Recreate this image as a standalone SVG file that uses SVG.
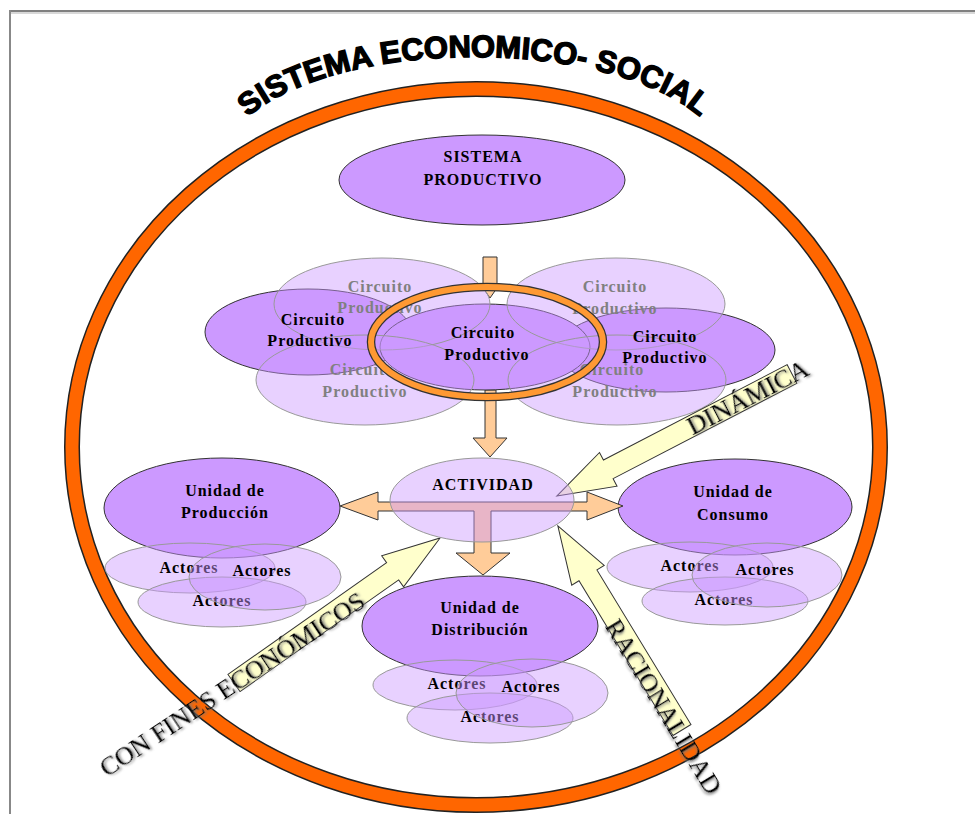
<svg xmlns="http://www.w3.org/2000/svg" width="975" height="814" viewBox="0 0 975 814">
<style>
.dk{fill:#cc99ff;stroke:#333;stroke-width:1}
.lt{fill:#cc99ff;fill-opacity:0.45;stroke:#999;stroke-width:1}
.t{font-family:'Liberation Serif','Times New Roman',serif;font-weight:bold;font-size:16px;letter-spacing:1px;text-anchor:middle;fill:#000}
.tg{fill:#808080}
.yel{fill:#ffffcc;stroke:#333;stroke-width:1}
.peach{fill:#ffcc99;stroke:#333;stroke-width:1}
.big{font-family:'Liberation Serif','Times New Roman',serif;font-size:26px;text-anchor:middle;fill:#000;filter:url(#sh)}
</style>
<defs>
<filter id="sh" x="-10%" y="-30%" width="120%" height="160%">
<feDropShadow dx="1.5" dy="1.5" stdDeviation="0.8" flood-color="#777" flood-opacity="0.9"/>
</filter>
<path id="arc" d="M 224 162 A 250 105 0 0 1 724 162"/>
</defs>
<rect width="975" height="814" fill="#fff"/>
<g id="page">
<line x1="9" y1="13" x2="975" y2="13" stroke="#d8d8d8" stroke-width="2"/>
<line x1="9" y1="11" x2="975" y2="11" stroke="#808080" stroke-width="2"/>
<line x1="10" y1="10" x2="10" y2="814" stroke="#888" stroke-width="2"/>
</g>
<g id="sistema-economico-social">
<ellipse cx="476" cy="447" rx="404" ry="358" fill="none" stroke="#222" stroke-width="16"/>
<ellipse cx="476" cy="447" rx="404" ry="358" fill="none" stroke="#ff6600" stroke-width="13"/>
<text font-family="'Liberation Sans',Arial,sans-serif" font-weight="bold" font-size="31" fill="#000" stroke="#000" stroke-width="1.4"><textPath href="#arc" startOffset="50%" text-anchor="middle">SISTEMA ECONOMICO- SOCIAL</textPath></text>
</g>
<g id="sistema-productivo">
<ellipse class="dk" cx="482" cy="180" rx="143" ry="45"/>
<text class="t" x="483" y="162">SISTEMA</text>
<text class="t" x="483" y="185">PRODUCTIVO</text>
</g>
<g id="connectors">
<polygon class="peach" points="483,257 497,257 497,288 490,298 483,288"/>
<polygon class="peach" points="485,390 496,390 496,438 507,438 490,457 473,438 485,438"/>
</g>
<g id="circuitos">
<ellipse class="dk" cx="308" cy="332" rx="103" ry="43"/>
<ellipse class="dk" cx="666" cy="350" rx="109" ry="42"/>
<ellipse class="dk" cx="485" cy="347" rx="105" ry="43"/>
<ellipse class="lt" cx="382" cy="304" rx="108" ry="46"/>
<ellipse class="lt" cx="616" cy="304" rx="109" ry="46"/>
<ellipse class="lt" cx="365" cy="380" rx="109" ry="45"/>
<ellipse class="lt" cx="617" cy="380" rx="109" ry="45"/>
<text class="t tg" x="380" y="292">Circuito</text>
<text class="t tg" x="380" y="313">Productivo</text>
<text class="t tg" x="615" y="292">Circuito</text>
<text class="t tg" x="615" y="314">Productivo</text>
<text class="t tg" x="362" y="375">Circuito</text>
<text class="t tg" x="365" y="397">Productivo</text>
<text class="t tg" x="612" y="375">Circuito</text>
<text class="t tg" x="615" y="397">Productivo</text>
<text class="t" x="313" y="325">Circuito</text>
<text class="t" x="310" y="346">Productivo</text>
<text class="t" x="483" y="338">Circuito</text>
<text class="t" x="487" y="360">Productivo</text>
<text class="t" x="665" y="342">Circuito</text>
<text class="t" x="665" y="363">Productivo</text>
<ellipse cx="487" cy="342" rx="116" ry="55" fill="none" stroke="#333" stroke-width="8.5"/>
<ellipse cx="487" cy="342" rx="116" ry="55" fill="none" stroke="#ff9933" stroke-width="6"/>
</g>
<g id="unidad-produccion">
<ellipse class="dk" cx="222" cy="508" rx="118" ry="50"/>
<text class="t" x="225" y="496">Unidad de</text>
<text class="t" x="225" y="518">Producción</text>
<ellipse class="lt" cx="190" cy="568" rx="85" ry="25"/>
<ellipse class="lt" cx="222" cy="602" rx="84" ry="25"/>
<text class="t" x="189" y="573">Actores</text>
<text class="t" x="222" y="606">Actores</text>
<ellipse class="lt" cx="265" cy="577" rx="76" ry="33"/>
<text class="t" x="262" y="576">Actores</text>
</g>
<g id="unidad-consumo">
<ellipse class="dk" cx="735" cy="507" rx="117" ry="48"/>
<text class="t" x="733" y="497">Unidad de</text>
<text class="t" x="733" y="520">Consumo</text>
<ellipse class="lt" cx="690" cy="567" rx="83" ry="25"/>
<ellipse class="lt" cx="725" cy="601" rx="83" ry="24"/>
<text class="t" x="690" y="571">Actores</text>
<text class="t" x="724" y="605">Actores</text>
<ellipse class="lt" cx="767" cy="575" rx="75" ry="32"/>
<text class="t" x="765" y="575">Actores</text>
</g>
<g id="unidad-distribucion">
<ellipse class="dk" cx="480" cy="626" rx="118" ry="50"/>
<text class="t" x="480" y="613">Unidad de</text>
<text class="t" x="480" y="635">Distribución</text>
<ellipse class="lt" cx="455" cy="685" rx="82" ry="25"/>
<ellipse class="lt" cx="490" cy="718" rx="83" ry="25"/>
<text class="t" x="457" y="689">Actores</text>
<text class="t" x="490" y="722">Actores</text>
<ellipse class="lt" cx="532" cy="693" rx="76" ry="34"/>
<text class="t" x="531" y="692">Actores</text>
</g>
<g id="flechas">
<polygon class="yel" transform="translate(792,374) rotate(152.57)" points="0,-10.5 207,-10.5 207,-19 265,0 207,19 207,10.5 0,10.5"/>
<polygon class="yel" transform="translate(234,683) rotate(-35.14)" points="0,-10.5 194,-10.5 194,-19 252,0 194,19 194,10.5 0,10.5"/>
<polygon class="yel" transform="translate(682,730) rotate(-121.3)" points="0,-10.5 181,-10.5 181,-19 239,0 181,19 181,10.5 0,10.5"/>
<polygon class="peach" points="340,506 378,492 378,502 587,502 587,492 623,506 587,520 587,511 491,511 491,553 510,553 483,575 456,553 474,553 474,511 378,511 378,520"/>
</g>
<g id="actividad">
<ellipse class="lt" cx="482" cy="500" rx="92" ry="42"/>
<text class="t" x="483" y="490" font-size="14" letter-spacing="0.7">ACTIVIDAD</text>
</g>
<g id="etiquetas">
<text class="big" transform="translate(747,396) rotate(-27.4)" y="10" font-size="28">DINÁMICA</text>
<text class="big" transform="translate(232,684) rotate(-33.5)" y="9">CON FINES ECONÓMICOS</text>
<text class="big" transform="translate(663,707) rotate(58.7)" y="8" font-size="24">RACIONALIDAD</text>
</g>
</svg>
